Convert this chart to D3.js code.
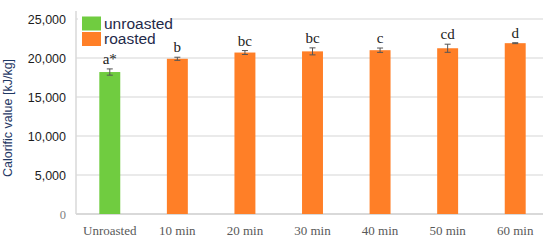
<!DOCTYPE html>
<html>
<head>
<meta charset="utf-8">
<script src="https://d3js.org/d3.v7.min.js"></script>
<style>
body { margin: 0; background: #fff; }
</style>
</head>
<body>
<svg id="chart" width="550" height="241"></svg>
<script>
// data
let categories = ["Unroasted", "10 min", "20 min", "30 min", "40 min", "50 min", "60 min"];
let values = [18200, 19900, 20700, 20850, 21000, 21250, 21900];
let errors = [400, 200, 250, 450, 280, 520, 60];
let letters = ["a*", "b", "bc", "bc", "c", "cd", "d"];
let groups = ["unroasted", "roasted", "roasted", "roasted", "roasted", "roasted", "roasted"];
let yTicks = [0, 5000, 10000, 15000, 20000, 25000];
let legendItems = ["unroasted", "roasted"];

let colors = {"unroasted": "#70cc40", "roasted": "#ff7f27"};

let svg = d3.select("#chart");
let plotLeft = 76, plotRight = 549, plotTop = 19, plotBottom = 214;

let x = d3.scaleBand()
	.domain(categories)
	.range([plotLeft, plotRight])
	.paddingInner(0.69)
	.paddingOuter(0.345);

let y = d3.scaleLinear()
	.domain([0, 25000])
	.range([plotBottom, plotTop]);

// gridlines
svg.selectAll(".grid")
	.data(yTicks.filter(d => d > 0))
	.enter().append("line")
	.attr("class", "grid")
	.attr("x1", plotLeft)
	.attr("x2", 543)
	.attr("y1", d => y(d))
	.attr("y2", d => y(d))
	.style("stroke", "#e3e3e3")
	.style("stroke-width", "1.5px");

// axis lines
svg.append("line")
	.attr("x1", plotLeft).attr("x2", plotLeft)
	.attr("y1", plotTop - 8).attr("y2", plotBottom)
	.style("stroke", "#d9d9d9")
	.style("stroke-width", "1.5px");
svg.append("line")
	.attr("x1", plotLeft).attr("x2", 543)
	.attr("y1", plotBottom).attr("y2", plotBottom)
	.style("stroke", "#d9d9d9")
	.style("stroke-width", "2px");

// y tick labels
svg.selectAll(".ytick")
	.data(yTicks)
	.enter().append("text")
	.attr("class", "ytick")
	.attr("x", 66)
	.attr("y", d => y(d) + 4.5)
	.attr("text-anchor", "end")
	.style("font-family", d => d === 0 ? "Liberation Serif" : "Liberation Sans")
	.style("font-size", "12.5px")
	.style("fill", d => d === 0 ? "#7f7f7f" : "#1c1c1c")
	.text(d => d3.format(",")(d));

// y title
svg.append("text")
	.attr("transform", "translate(12,118) rotate(-90)")
	.attr("text-anchor", "middle")
	.style("font-family", "Liberation Sans")
	.style("font-size", "12.5px")
	.style("fill", "#1f3864")
	.text("Calorific value [kJ/kg]");

// bars
svg.selectAll(".bar")
	.data(categories)
	.enter().append("rect")
	.attr("class", "bar")
	.attr("x", d => x(d))
	.attr("width", x.bandwidth())
	.attr("y", (d, i) => y(values[i]))
	.attr("height", (d, i) => plotBottom - y(values[i]))
	.style("fill", (d, i) => colors[groups[i]]);

// error bars
categories.forEach((c, i) => {
	let cx = x(c) + x.bandwidth() / 2;
	let y0 = y(values[i] - errors[i]), y1 = y(values[i] + errors[i]);
	let g = svg.append("g").style("stroke", "#555").style("stroke-width", "1px");
	g.append("line").attr("x1", cx).attr("x2", cx).attr("y1", y0).attr("y2", y1);
	g.append("line").attr("x1", cx - 3).attr("x2", cx + 3).attr("y1", y0).attr("y2", y0);
	g.append("line").attr("x1", cx - 3).attr("x2", cx + 3).attr("y1", y1).attr("y2", y1);

	svg.append("text")
		.attr("x", cx)
		.attr("y", y1 - 5)
		.attr("text-anchor", "middle")
		.style("font-family", "Liberation Serif")
		.style("font-size", "15px")
		.style("fill", "#222")
		.text(letters[i]);
});

// x labels
svg.selectAll(".xlab")
	.data(categories)
	.enter().append("text")
	.attr("class", "xlab")
	.attr("x", d => x(d) + x.bandwidth() / 2)
	.attr("y", 235)
	.attr("text-anchor", "middle")
	.style("font-family", "Liberation Serif")
	.style("font-size", "13px")
	.style("fill", "#595959")
	.text(d => d);

// legend
let legend = svg.append("g");
legend.append("rect")
	.attr("x", 78).attr("y", 12)
	.attr("width", 94).attr("height", 38)
	.style("fill", "#fff");
legendItems.forEach((d, i) => {
	legend.append("rect")
		.attr("x", 82)
		.attr("y", 16.5 + i * 15.5)
		.attr("width", 19)
		.attr("height", 14)
		.style("fill", colors[d]);
	legend.append("text")
		.attr("x", 104)
		.attr("y", 28.5 + i * 15.5)
		.style("font-family", "Liberation Sans")
		.style("font-size", "15.5px")
		.style("fill", "#1f2a4a")
		.text(d);
});
</script>
</body>
</html>
